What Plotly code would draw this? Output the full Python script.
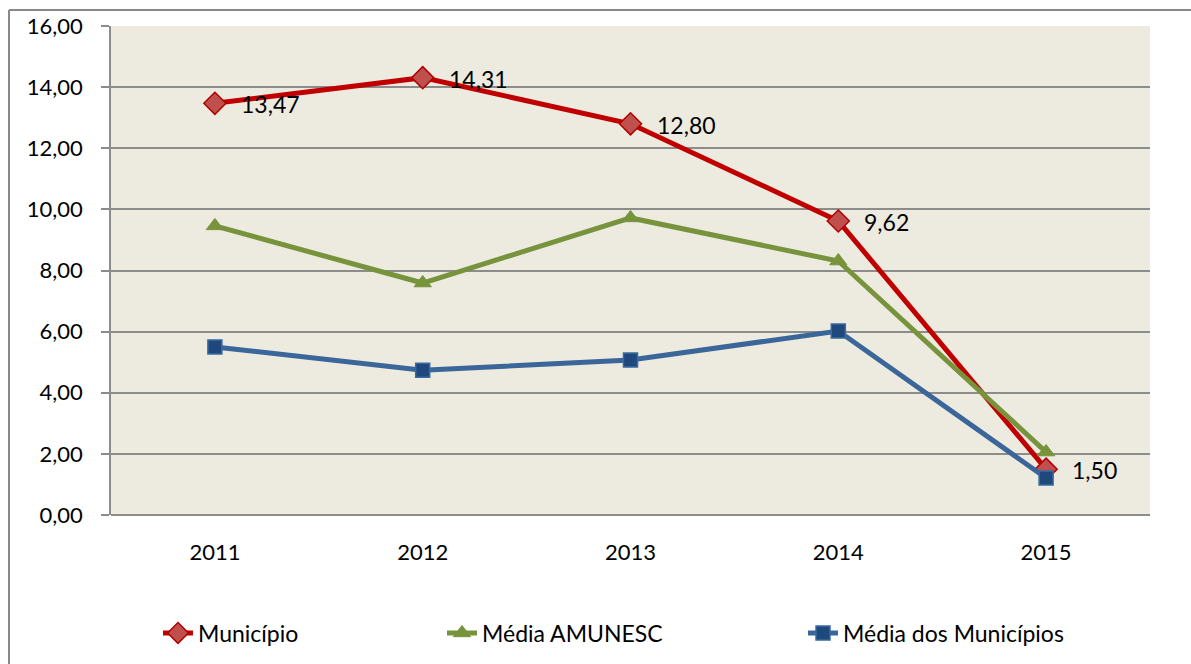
import plotly.graph_objects as go

anos = ["2011", "2012", "2013", "2014", "2015"]
municipio = [13.47, 14.31, 12.80, 9.62, 1.50]
media_amunesc = [9.46, 7.59, 9.72, 8.31, 2.06]
media_municipios = [5.50, 4.74, 5.07, 6.02, 1.21]
y_ticks = [0, 2, 4, 6, 8, 10, 12, 14, 16]

FONT = "Lato"
W, H = 1191, 664
L, T = 111, 26
R = W - 1150
B = H - 515
pw, ph = W - L - R, H - T - B

fig = go.Figure()
fig.add_trace(go.Scatter(
    x=anos, y=municipio, name="Município", mode="lines+markers",
    line=dict(color="#C00000", width=5),
    marker=dict(symbol="diamond", size=17, color="#C0504D", line=dict(color="#B00000", width=1.5)),
    legend="legend"))
fig.add_trace(go.Scatter(
    x=anos, y=media_amunesc, name="Média AMUNESC", mode="lines+markers",
    line=dict(color="#77933C", width=5),
    marker=dict(symbol="triangle-up", size=15, color="#77933C", line=dict(color="#77933C", width=1)),
    legend="legend2"))
fig.add_trace(go.Scatter(
    x=anos, y=media_municipios, name="Média dos Municípios", mode="lines+markers",
    line=dict(color="#3A6699", width=5),
    marker=dict(symbol="square", size=14, color="#1F497D", line=dict(color="#3A6A9F", width=1.5)),
    legend="legend3"))

for i, v in enumerate(municipio):
    fig.add_annotation(x=i, y=v, text=f"{v:.2f}".replace(".", ","), showarrow=False,
                       xanchor="left", yanchor="middle", xshift=24, yshift=-1,
                       font=dict(family=FONT, size=23, color="#000000"))

# coordinates below are screenshot pixels
def px_x(p):
    return (p - L) / pw

def px_y(p):
    return (H - B - p) / ph

# outer chart border (only top and left edges are inside the picture)
fig.add_shape(type="line", xref="paper", yref="paper",
              x0=px_x(9), x1=px_x(1220), y0=px_y(10), y1=px_y(10),
              line=dict(color="#888888", width=2), layer="below")
fig.add_shape(type="line", xref="paper", yref="paper",
              x0=px_x(9), x1=px_x(9), y0=px_y(10), y1=px_y(700),
              line=dict(color="#888888", width=2), layer="below")

leg_common = dict(orientation="h", yanchor="middle", xanchor="left",
                  font=dict(family=FONT, size=23, color="#000000"),
                  bgcolor="rgba(0,0,0,0)", itemwidth=30)
ly = px_y(633)
fig.update_layout(
    width=W, height=H,
    margin=dict(l=L, r=R, t=T, b=B, autoexpand=False),
    paper_bgcolor="white",
    plot_bgcolor="#EDEAE0",
    separators=",.",
    showlegend=True,
    hovermode=False,
    legend=dict(x=px_x(158), y=ly, **leg_common),
    legend2=dict(x=px_x(442), y=ly, **leg_common),
    legend3=dict(x=px_x(803), y=ly, **leg_common),
    xaxis=dict(type="category", range=[-0.5, 4.5], showgrid=False, showline=False, zeroline=False,
               automargin=False,
               ticks="", tickfont=dict(family=FONT, size=22, color="#000000"),
               ticklabelstandoff=22),
    yaxis=dict(range=[0, 16], tickvals=y_ticks, tickformat=".2f", automargin=False,
               showgrid=True, gridcolor="#8C8C8C", gridwidth=1.5,
               showline=True, linecolor="#8C8C8C", linewidth=1.5,
               zeroline=True, zerolinecolor="#8C8C8C", zerolinewidth=1.5,
               ticks="outside", ticklen=8, tickcolor="#8C8C8C", tickwidth=1.5,
               tickfont=dict(family=FONT, size=22, color="#000000"),
               ticklabelstandoff=14),
)

fig.write_html(
    "out.html",
    config={"displayModeBar": False},
    post_script=(
        "document.body.style.margin='0';"
        "document.body.style.overflow='hidden';"
        "document.documentElement.style.overflow='hidden';"
    ),
)
